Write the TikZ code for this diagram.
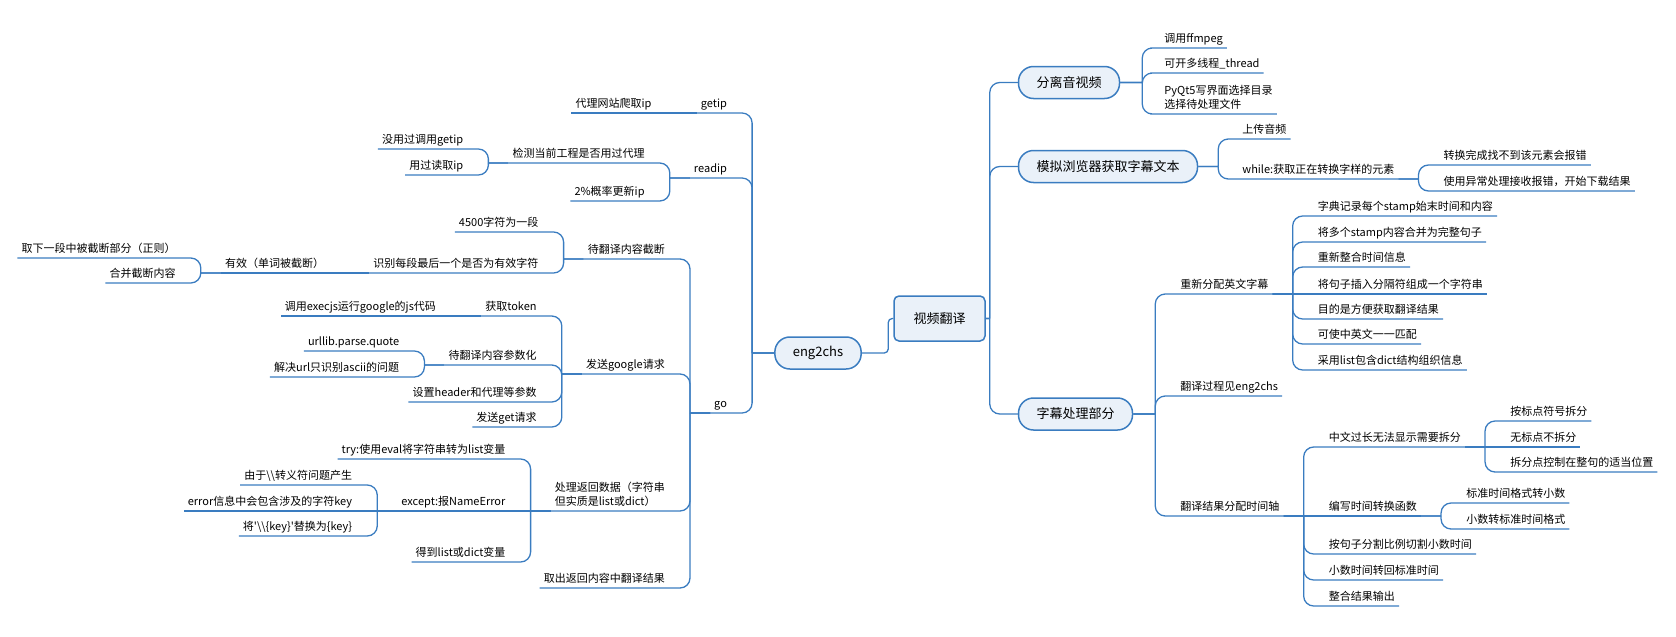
\documentclass[tikz,border=0pt]{standalone}
\usepackage{fontspec}
\setmainfont{Noto Sans CJK SC}
\usetikzlibrary{calc}
\definecolor{lnblue}{RGB}{58,124,192}
\definecolor{pillfill}{RGB}{234,241,249}

\begin{document}
\begin{tikzpicture}[
    x=1pt, y=-1pt,
    ln/.style={draw=lnblue, line width=1.3pt, rounded corners=10pt},
    leaf/.style={inner xsep=4pt, inner ysep=2.5pt, text depth=2.5pt,
                 align=left, font=\fontsize{11}{14}\selectfont},
    lleaf/.style={leaf, anchor=south east},
    rleaf/.style={leaf, anchor=south west},
    pill/.style={draw=lnblue, line width=1.5pt, fill=pillfill,
                 rounded corners=15pt, minimum height=32pt, inner xsep=18pt,
                 font=\fontsize{13}{15}\selectfont},
    topic/.style={draw=lnblue, line width=1.5pt, fill=pillfill,
                 rounded corners=5pt, minimum height=45pt, minimum width=91pt,
                 font=\fontsize{13}{15}\selectfont},
    ll/.style={to path={-- ++(-#1,0) ++(0,0) |- (\tikztotarget.south east)
                 -- (\tikztotarget.south west)}},
    ll/.default=20,
    rl/.style={to path={-- ++(#1,0) ++(0,0) |- (\tikztotarget.south west)
                 -- (\tikztotarget.south east)}},
    rl/.default=20,
    rp/.style={to path={-- ++(4,0) ++(0,0) |- (\tikztotarget.west)}},
    ls/.style={to path={-- (\tikztotarget.south west)}},
    rs/.style={to path={-- (\tikztotarget.south east)}},
]
\useasboundingbox (0,0) rectangle (1676,637);
\node[topic] (vt) at (939.5,318.5) {视频翻译};
\node[pill] (eng) at (818,353) {eng2chs};

\node[lleaf] (getip) at ($(eng.west)+(-43,-240)$) {getip};
\node[lleaf] (proxy) at ($(getip.south west)+(-41,0)$) {代理网站爬取ip};
\node[lleaf] (readip) at ($(eng.west)+(-43,-175)$) {readip};
\node[lleaf] (check) at ($(readip.south west)+(-41,-15)$) {检测当前工程是否用过代理};
\node[lleaf] (unused) at ($(check.south west)+(-41,-14)$) {没用过调用getip};
\node[lleaf] (used) at ($(check.south west)+(-41,12)$) {用过读取ip};
\node[lleaf] (renew) at ($(readip.south west)+(-41,23)$) {2\%概率更新ip};
\node[lleaf] (go) at ($(eng.west)+(-43,60)$) {go};
\node[lleaf] (cut) at ($(go.south west)+(-41,-154)$) {待翻译内容截断};
\node[lleaf] (seg) at ($(cut.south west)+(-41,-27)$) {4500字符为一段};
\node[lleaf] (ident) at ($(cut.south west)+(-41,14)$) {识别每段最后一个是否为有效字符};
\node[lleaf] (valid) at ($(ident.south west)+(-41,0)$) {有效（单词被截断）};
\node[lleaf] (nextseg) at ($(valid.south west)+(-41,-15)$) {取下一段中被截断部分（正则）};
\node[lleaf] (merge) at ($(valid.south west)+(-41,10)$) {合并截断内容};
\node[lleaf] (send) at ($(go.south west)+(-41,-39)$) {发送google请求};
\node[lleaf] (token) at ($(send.south west)+(-41,-58)$) {获取token};
\node[lleaf] (execjs) at ($(token.south west)+(-41,0)$) {调用execjs运行google的js代码};
\node[lleaf] (param) at ($(send.south west)+(-41,-9)$) {待翻译内容参数化};
\node[lleaf] (quote) at ($(param.south west)+(-41,-14)$) {urllib.parse.quote};
\node[lleaf] (ascii) at ($(param.south west)+(-41,12)$) {解决url只识别ascii的问题};
\node[lleaf] (header) at ($(send.south west)+(-41,28)$) {设置header和代理等参数};
\node[lleaf] (getreq) at ($(send.south west)+(-41,53)$) {发送get请求};
\node[lleaf] (proc) at ($(go.south west)+(-41,98)$) {处理返回数据（字符串\\但实质是list或dict）};
\node[lleaf] (tryeval) at ($(proc.south west)+(-41,-52)$) {try:使用eval将字符串转为list变量};
\node[lleaf] (except) at ($(proc.south west)+(-41,0)$) {except:报NameError};
\node[lleaf] (escape) at ($(except.south west)+(-41,-26)$) {由于\textbackslash\textbackslash 转义符问题产生};
\node[lleaf] (errkey) at ($(except.south west)+(-41,0)$) {error信息中会包含涉及的字符key};
\node[lleaf] (replace) at ($(except.south west)+(-41,25)$) {将\textquotesingle\textbackslash\textbackslash\{key\}\textquotesingle 替换为\{key\}};
\node[lleaf] (getlist) at ($(proc.south west)+(-41,51)$) {得到list或dict变量};
\node[lleaf] (fetch) at ($(go.south west)+(-41,175)$) {取出返回内容中翻译结果};

\node[pill, anchor=west] (sep) at ($(vt.east)+(32,-236)$) {分离音视频};
\node[rleaf] (ffmpeg) at ($(sep.east)+(40,-34.5)$) {调用ffmpeg};
\node[rleaf] (thread) at ($(sep.east)+(40,-9.5)$) {可开多线程\_thread};
\node[rleaf] (pyqt) at ($(sep.east)+(40,31.5)$) {PyQt5写界面选择目录\\选择待处理文件};
\node[pill, anchor=west] (browser) at ($(vt.east)+(32,-152)$) {模拟浏览器获取字幕文本};
\node[rleaf] (upload) at ($(browser.east)+(40,-27.5)$) {上传音频};
\node[rleaf] (while) at ($(browser.east)+(40,12.5)$) {while:获取正在转换字样的元素};
\node[rleaf] (noelem) at ($(while.south east)+(41,-14)$) {转换完成找不到该元素会报错};
\node[rleaf] (download) at ($(while.south east)+(41,12)$) {使用异常处理接收报错，开始下载结果};
\node[pill, anchor=west] (subtitle) at ($(vt.east)+(32,95.5)$) {字幕处理部分};
\node[rleaf] (redist) at ($(subtitle.east)+(43,-120)$) {重新分配英文字幕};
\node[rleaf] (dict) at ($(redist.south east)+(41,-78)$) {字典记录每个stamp始末时间和内容};
\node[rleaf] (join) at ($(redist.south east)+(41,-52)$) {将多个stamp内容合并为完整句子};
\node[rleaf] (retime) at ($(redist.south east)+(41,-27)$) {重新整合时间信息};
\node[rleaf] (insert) at ($(redist.south east)+(41,0)$) {将句子插入分隔符组成一个字符串};
\node[rleaf] (purpose) at ($(redist.south east)+(41,25)$) {目的是方便获取翻译结果};
\node[rleaf] (match) at ($(redist.south east)+(41,50)$) {可使中英文一一匹配};
\node[rleaf] (listdict) at ($(redist.south east)+(41,76)$) {采用list包含dict结构组织信息};
\node[rleaf] (seeeng) at ($(subtitle.east)+(43,-18)$) {翻译过程见eng2chs};
\node[rleaf] (timeax) at ($(subtitle.east)+(43,102)$) {翻译结果分配时间轴};
\node[rleaf] (toolong) at ($(timeax.south east)+(41,-69)$) {中文过长无法显示需要拆分};
\node[rleaf] (bypunct) at ($(toolong.south east)+(41,-26)$) {按标点符号拆分};
\node[rleaf] (nopunct) at ($(toolong.south east)+(41,0)$) {无标点不拆分};
\node[rleaf] (splitpos) at ($(toolong.south east)+(41,25)$) {拆分点控制在整句的适当位置};
\node[rleaf] (convfn) at ($(timeax.south east)+(41,0)$) {编写时间转换函数};
\node[rleaf] (todec) at ($(convfn.south east)+(41,-13)$) {标准时间格式转小数};
\node[rleaf] (tostd) at ($(convfn.south east)+(41,13)$) {小数转标准时间格式};
\node[rleaf] (ratio) at ($(timeax.south east)+(41,38)$) {按句子分割比例切割小数时间};
\node[rleaf] (back) at ($(timeax.south east)+(41,64)$) {小数时间转回标准时间};
\node[rleaf] (output) at ($(timeax.south east)+(41,90)$) {整合结果输出};

\draw[ln, rounded corners=4pt] (vt.west) -- ++(-5,0) |- (eng.east);
\draw[ln] (eng.west) to[ll=22] (getip);
\draw[ln] (eng.west) to[ll=22] (readip);
\draw[ln] (eng.west) to[ll=22] (go);
\draw[ln] (getip.south west) to[ls] (proxy);
\draw[ln] (readip.south west) to[ll] (check);
\draw[ln] (readip.south west) to[ll] (renew);
\draw[ln] (check.south west) to[ll] (unused);
\draw[ln] (check.south west) to[ll] (used);
\draw[ln] (go.south west) to[ll] (cut);
\draw[ln] (go.south west) to[ll] (send);
\draw[ln] (go.south west) to[ll] (proc);
\draw[ln] (go.south west) to[ll] (fetch);
\draw[ln] (cut.south west) to[ll] (seg);
\draw[ln] (cut.south west) to[ll] (ident);
\draw[ln] (ident.south west) to[ls] (valid);
\draw[ln] (valid.south west) to[ll] (nextseg);
\draw[ln] (valid.south west) to[ll] (merge);
\draw[ln] (send.south west) to[ll] (token);
\draw[ln] (send.south west) to[ll] (param);
\draw[ln] (send.south west) to[ll] (header);
\draw[ln] (send.south west) to[ll] (getreq);
\draw[ln] (token.south west) to[ls] (execjs);
\draw[ln] (param.south west) to[ll] (quote);
\draw[ln] (param.south west) to[ll] (ascii);
\draw[ln] (proc.south west) to[ll] (tryeval);
\draw[ln] (proc.south west) to[ls] (except);
\draw[ln] (proc.south west) to[ll] (getlist);
\draw[ln] (except.south west) to[ll] (escape);
\draw[ln] (except.south west) to[ls] (errkey);
\draw[ln] (except.south west) to[ll] (replace);

\draw[ln] (vt.east) to[rp] (sep);
\draw[ln] (vt.east) to[rp] (browser);
\draw[ln] (vt.east) to[rp] (subtitle);
\draw[ln] (sep.east) to[rl=22] (ffmpeg);
\draw[ln] (sep.east) to[rl=22] (thread);
\draw[ln] (sep.east) to[rl=22] (pyqt);
\draw[ln] (browser.east) to[rl] (upload);
\draw[ln] (browser.east) to[rl] (while);
\draw[ln] (while.south east) to[rl] (noelem);
\draw[ln] (while.south east) to[rl] (download);
\draw[ln] (subtitle.east) to[rl=22] (redist);
\draw[ln] (subtitle.east) to[rl=22] (seeeng);
\draw[ln] (subtitle.east) to[rl=22] (timeax);
\draw[ln] (redist.south east) to[rl] (dict);
\draw[ln] (redist.south east) to[rl] (join);
\draw[ln] (redist.south east) to[rl] (retime);
\draw[ln] (redist.south east) to[rs] (insert);
\draw[ln] (redist.south east) to[rl] (purpose);
\draw[ln] (redist.south east) to[rl] (match);
\draw[ln] (redist.south east) to[rl] (listdict);
\draw[ln] (timeax.south east) to[rl] (toolong);
\draw[ln] (timeax.south east) to[rs] (convfn);
\draw[ln] (timeax.south east) to[rl] (ratio);
\draw[ln] (timeax.south east) to[rl] (back);
\draw[ln] (timeax.south east) to[rl] (output);
\draw[ln] (toolong.south east) to[rl] (bypunct);
\draw[ln] (toolong.south east) to[rs] (nopunct);
\draw[ln] (toolong.south east) to[rl] (splitpos);
\draw[ln] (convfn.south east) to[rl] (todec);
\draw[ln] (convfn.south east) to[rl] (tostd);
\end{tikzpicture}
\end{document}
